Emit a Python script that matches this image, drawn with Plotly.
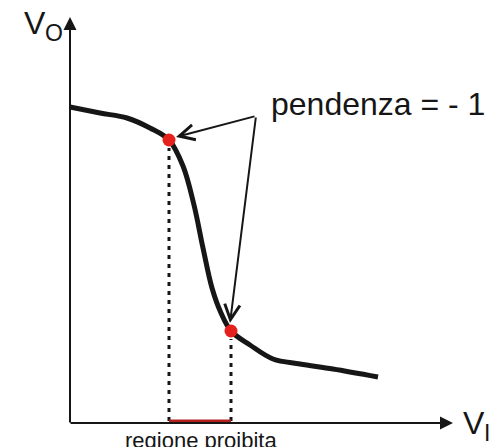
import plotly.graph_objects as go

# Transfer characteristic V_O(V_I) of an inverter (arbitrary units)
vi = [0, 30, 57, 80, 99, 113, 124, 133, 142, 151, 161, 180, 203, 230, 263, 308]
vo = [316, 310, 305, 295, 283, 257, 218, 175, 135, 110, 92, 78, 64, 59, 54, 46]

# Points where the slope equals -1
unity_vi = [99, 161]
unity_vo = [283, 92]

# Axis extents (end of the arrows)
vi_max = 383
vo_max = 406

FONT = "Liberation Sans, Arial, sans-serif"
INK = "#161616"

fig = go.Figure()

# dotted projections from the unity-gain points to the V_I axis
for xv, yv in zip(unity_vi, unity_vo):
    fig.add_trace(go.Scatter(
        x=[xv, xv], y=[2, yv - 8], mode="lines",
        line=dict(color=INK, width=3, dash="4px,5px"),
        hoverinfo="skip", showlegend=False))

# forbidden input region on the V_I axis
fig.add_trace(go.Scatter(
    x=[unity_vi[0], unity_vi[1]], y=[1.5, 1.5], mode="lines",
    line=dict(color="#b3201f", width=4),
    hoverinfo="skip", showlegend=False))

# transfer curve
fig.add_trace(go.Scatter(
    x=vi, y=vo, mode="lines",
    line=dict(color=INK, width=5, shape="spline", smoothing=1.0),
    hoverinfo="skip", showlegend=False))

# unity-slope markers
fig.add_trace(go.Scatter(
    x=unity_vi, y=unity_vo, mode="markers",
    marker=dict(color="#e5211d", size=13, line=dict(width=0)),
    hoverinfo="skip", showlegend=False))

# axes drawn as arrows
fig.add_annotation(x=0, y=vo_max, ax=0, ay=-1, xref="x", yref="y", axref="x", ayref="y",
                   showarrow=True, arrowhead=2, arrowsize=1.3, arrowwidth=2,
                   arrowcolor=INK, text="")
fig.add_annotation(x=vi_max, y=0, ax=-1, ay=0, xref="x", yref="y", axref="x", ayref="y",
                   showarrow=True, arrowhead=2, arrowsize=1.3, arrowwidth=2,
                   arrowcolor=INK, text="")

# pointers from the label to the two markers
apex = (186, 307)
heads = [(106, 286), (160, 100)]
for hx, hy in heads:
    fig.add_annotation(x=hx, y=hy, ax=apex[0], ay=apex[1], xref="x", yref="y",
                       axref="x", ayref="y", showarrow=True, arrowhead=5,
                       arrowsize=1.5, arrowwidth=2, arrowcolor=INK, text="")

# labels
fig.add_annotation(x=199, y=319, xref="x", yref="y", text="pendenza = - 1",
                   showarrow=False, xanchor="left", yanchor="middle",
                   font=dict(family=FONT, size=32, color=INK))
fig.add_annotation(x=131, y=-17, xref="x", yref="y", text="regione proibita",
                   showarrow=False, xanchor="center", yanchor="middle",
                   font=dict(family=FONT, size=22, color=INK))
fig.add_annotation(x=-48, y=400, xref="x", yref="y", text="V",
                   showarrow=False, xanchor="left", yanchor="middle",
                   font=dict(family=FONT, size=32, color=INK))
fig.add_annotation(x=-27, y=390, xref="x", yref="y", text="O",
                   showarrow=False, xanchor="left", yanchor="middle",
                   font=dict(family=FONT, size=23, color=INK))
fig.add_annotation(x=391, y=0, xref="x", yref="y", text="V",
                   showarrow=False, xanchor="left", yanchor="middle",
                   font=dict(family=FONT, size=32, color=INK))
fig.add_annotation(x=412, y=-10, xref="x", yref="y", text="I",
                   showarrow=False, xanchor="left", yanchor="middle",
                   font=dict(family=FONT, size=23, color=INK))

fig.update_xaxes(range=[-70, 419], visible=False, fixedrange=True)
fig.update_yaxes(range=[-24, 423], visible=False, fixedrange=True)
fig.update_layout(
    width=489, height=447,
    margin=dict(l=0, r=0, t=0, b=0),
    paper_bgcolor="white", plot_bgcolor="white",
    showlegend=False,
)

fig.write_html("out.html", config={"displayModeBar": False})
